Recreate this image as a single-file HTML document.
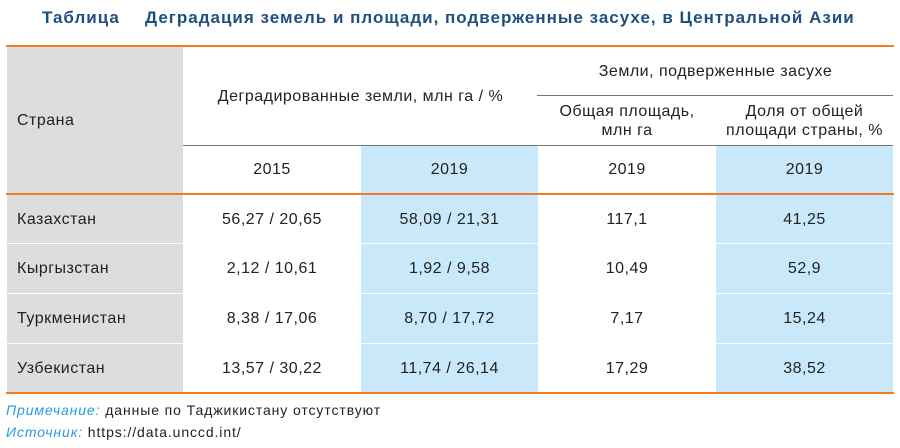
<!DOCTYPE html>
<html><head><meta charset="utf-8"><style>
body{margin:0;width:900px;height:448px;background:#fff;font-family:"Liberation Sans","DejaVu Sans",sans-serif;color:#222;position:relative;overflow:hidden}
.a{position:absolute}
.t{font-weight:bold;color:#1d4f80;font-size:17px;top:8px;letter-spacing:1px;white-space:nowrap}
.c{position:absolute;display:flex;align-items:center;justify-content:center;text-align:center;font-size:16px;line-height:19px;letter-spacing:0.5px}
.g{background:#dcdddf}.b{background:#c9e9fa}
.l{justify-content:flex-start;padding-left:10px;box-sizing:border-box}
.n{font-size:14px;letter-spacing:0.9px;white-space:nowrap}
</style></head><body>
<div class="a t" style="left:42px">Таблица</div>
<div class="a t" style="left:145px">Деградация земель и площади, подверженные засухе, в Центральной Азии</div>
<div class="a" style="left:6px;top:45px;width:888px;height:2px;background:#f47b20"></div>
<div class="c g l" style="left:7px;top:47px;width:176px;height:146px">Страна</div>
<div class="c" style="left:183px;top:47px;width:355px;height:98px">Деградированные земли, млн га / %</div>
<div class="c" style="left:538px;top:47px;width:355px;height:48px">Земли, подверженные засухе</div>
<div class="a" style="left:537px;top:95px;width:356px;height:1px;background:#777"></div>
<div class="c" style="left:538px;top:96px;width:178px;height:49px">Общая площадь,<br>млн га</div>
<div class="c" style="left:716px;top:96px;width:177px;height:49px">Доля от общей<br>площади страны, %</div>
<div class="a" style="left:183px;top:145px;width:710px;height:1px;background:#777"></div>
<div class="c" style="left:183px;top:146px;width:178px;height:47px">2015</div>
<div class="c b" style="left:361px;top:146px;width:177px;height:47px">2019</div>
<div class="c" style="left:538px;top:146px;width:178px;height:47px">2019</div>
<div class="c b" style="left:716px;top:146px;width:177px;height:47px">2019</div>
<div class="a" style="left:6px;top:193px;width:888px;height:2px;background:#f47b20"></div>

<div class="c g l" style="left:7px;top:195px;width:176px;height:48px">Казахстан</div>
<div class="c" style="left:183px;top:195px;width:178px;height:48px">56,27 / 20,65</div>
<div class="c b" style="left:361px;top:195px;width:177px;height:48px">58,09 / 21,31</div>
<div class="c" style="left:538px;top:195px;width:178px;height:48px">117,1</div>
<div class="c b" style="left:716px;top:195px;width:177px;height:48px">41,25</div>

<div class="c g l" style="left:7px;top:244px;width:176px;height:49px">Кыргызстан</div>
<div class="c" style="left:183px;top:244px;width:178px;height:49px">2,12 / 10,61</div>
<div class="c b" style="left:361px;top:244px;width:177px;height:49px">1,92 / 9,58</div>
<div class="c" style="left:538px;top:244px;width:178px;height:49px">10,49</div>
<div class="c b" style="left:716px;top:244px;width:177px;height:49px">52,9</div>

<div class="c g l" style="left:7px;top:294px;width:176px;height:49px">Туркменистан</div>
<div class="c" style="left:183px;top:294px;width:178px;height:49px">8,38 / 17,06</div>
<div class="c b" style="left:361px;top:294px;width:177px;height:49px">8,70 / 17,72</div>
<div class="c" style="left:538px;top:294px;width:178px;height:49px">7,17</div>
<div class="c b" style="left:716px;top:294px;width:177px;height:49px">15,24</div>

<div class="c g l" style="left:7px;top:344px;width:176px;height:48px">Узбекистан</div>
<div class="c" style="left:183px;top:344px;width:178px;height:48px">13,57 / 30,22</div>
<div class="c b" style="left:361px;top:344px;width:177px;height:48px">11,74 / 26,14</div>
<div class="c" style="left:538px;top:344px;width:178px;height:48px">17,29</div>
<div class="c b" style="left:716px;top:344px;width:177px;height:48px">38,52</div>
<div class="a" style="left:6px;top:392px;width:888px;height:2px;background:#f47b20"></div>

<div class="a n" style="left:6px;top:402px"><i style="color:#2b9be0">Примечание:</i> данные по Таджикистану отсутствуют</div>
<div class="a n" style="left:6px;top:424px"><i style="color:#2b9be0">Источник:</i> https://data.unccd.int/</div>
</body></html>
